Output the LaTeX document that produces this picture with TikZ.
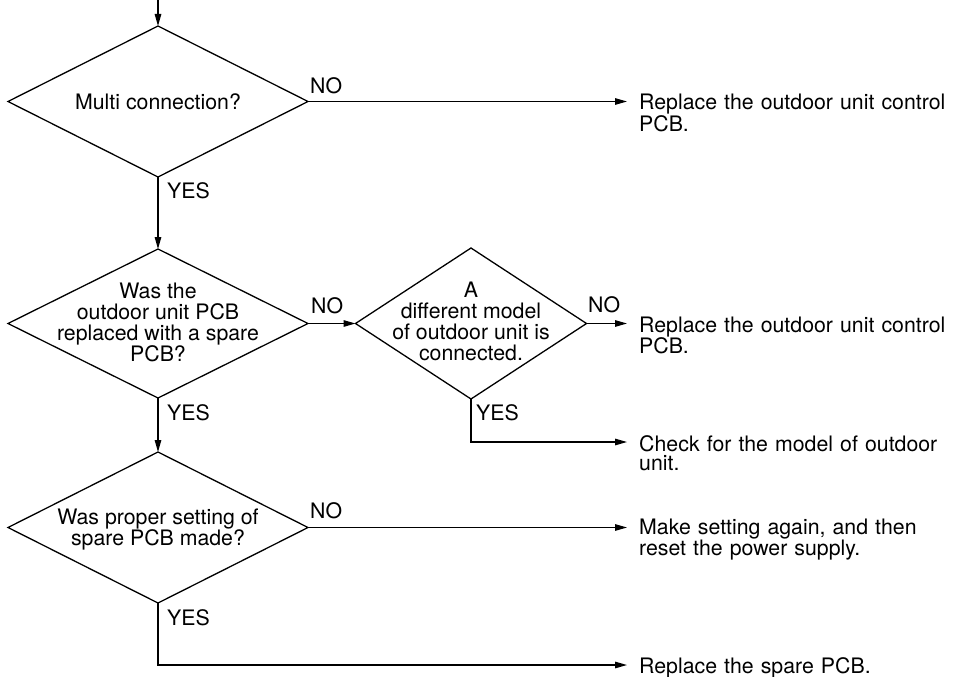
\documentclass[tikz,border=0pt]{standalone}
\usepackage{fontspec}
\setmainfont{TeX Gyre Heros}
\usetikzlibrary{shapes.geometric,arrows.meta}
\begin{document}
\begin{tikzpicture}[x=1pt,y=-1pt,
  dec/.style={draw,shape=diamond,inner sep=0pt,outer sep=0pt,line width=1.3pt},
  dtext/.style={align=center,inner sep=0pt,font=\fontsize{21.3}{21}\selectfont},
  rtext/.style={anchor=base west,align=left,text width=320pt,inner sep=0pt,font=\fontsize{21.3}{19.5}\selectfont},
  lab/.style={anchor=base west,inner sep=0pt,font=\fontsize{21.3}{21}\selectfont},
  arr/.style={-{Triangle[length=12pt,width=6.5pt]},line width=1.3pt},
  conn/.style={line width=1.3pt}]
\useasboundingbox (0,0) rectangle (956,677);

% decisions
\node[dec,minimum width=300pt,minimum height=151pt] (d1) at (158,101.5) {};
\node[dtext] (t1) at (d1.center) {Multi connection?};
\node[dec,minimum width=300pt,minimum height=149pt] (d2) at (158,323.5) {};
\node[dtext] (t2) at (158,322) {Was the\\outdoor unit PCB\\replaced with a spare\\PCB?};
\node[dec,minimum width=231pt,minimum height=151pt] (d4) at (471,323.5) {};
\node[dtext] (t4) at (471,321) {A\\different model\\of outdoor unit is\\connected.};
\node[dec,minimum width=300pt,minimum height=151pt] (d3) at (158,527.5) {};
\node[dtext] (t3) at (158,530) {Was proper setting of\\spare PCB made?};

% results
\node[rtext] (r1) at (639,110) {Replace the outdoor unit control\\PCB.};
\node[rtext] (r2) at (639,332) {Replace the outdoor unit control\\PCB.};
\node[rtext] (r3) at (639,451) {Check for the model of outdoor\\unit.};
\node[rtext] (r4) at (639,534) {Make setting again, and then\\reset the power supply.};
\node[rtext] (r5) at (639,673) {Replace the spare PCB.};

% arrow tips
\coordinate (start) at (158,0);
\coordinate (a1) at (627,101.5);
\coordinate (a2) at (627,323.5);
\coordinate (a3) at (627,442);
\coordinate (a4) at (627,527.5);
\coordinate (a5) at (627,665);

% connectors
\draw[arr] (start) -- (d1.north);
\draw[arr] (d1.east) -- (a1);
\draw[arr] (d1.south) -- (d2.north);
\draw[arr] (d2.east) -- (d4.west);
\draw[arr] (d4.east) -- (a2);
\draw[arr] (d4.south) |- (a3);
\draw[arr] (d2.south) -- (d3.north);
\draw[arr] (d3.east) -- (a4);
\draw[arr] (d3.south) |- (a5);

% labels
\node[lab] (n1) at (310,93) {NO};
\node[lab] (y1) at (167,198) {YES};
\node[lab] (n2) at (311,313) {NO};
\node[lab] (n3) at (588,312) {NO};
\node[lab] (y4) at (476,420) {YES};
\node[lab] (y2) at (167,420) {YES};
\node[lab] (n4) at (310,518) {NO};
\node[lab] (y3) at (167,625) {YES};
\end{tikzpicture}
\end{document}
